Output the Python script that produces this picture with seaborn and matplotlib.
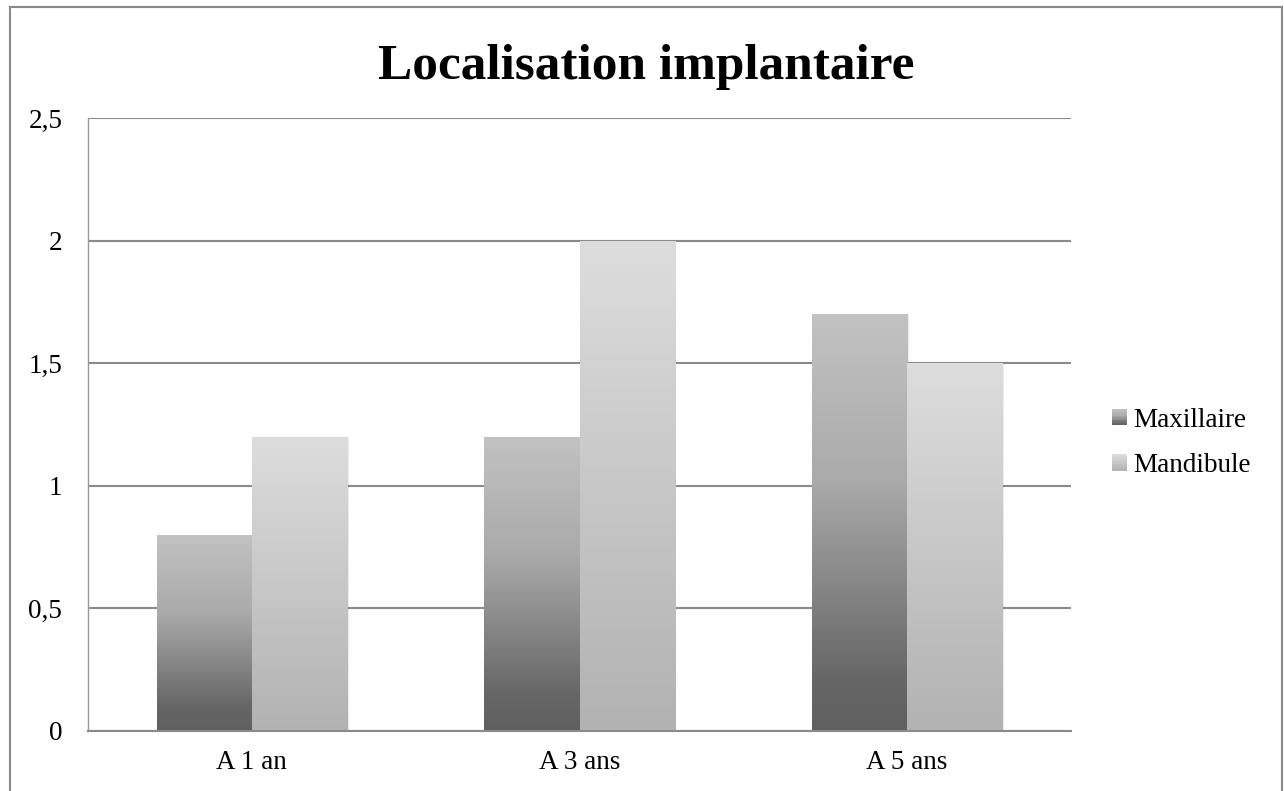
import numpy as np
import pandas as pd
import matplotlib
matplotlib.use("Agg")
import matplotlib.pyplot as plt
import seaborn as sns
from matplotlib.colors import LinearSegmentedColormap
from matplotlib.patches import Patch, Rectangle
from matplotlib.legend_handler import HandlerBase

periodes = ["A 1 an", "A 3 ans", "A 5 ans"]
series = ["Maxillaire", "Mandibule"]
maxillaire = [0.8, 1.2, 1.7]
mandibule = [1.2, 2.0, 1.5]
yticks = [0, 0.5, 1, 1.5, 2, 2.5]
ytick_labels = ["0", "0,5", "1", "1,5", "2", "2,5"]

df = pd.DataFrame({
    "periode": periodes * 2,
    "localisation": [series[0]] * 3 + [series[1]] * 3,
    "valeur": maxillaire + mandibule,
})


class GradientHandler(HandlerBase):
    # legend square filled with the same vertical gradient as the bars
    def __init__(self, cmap, n=12):
        super().__init__()
        self.cmap = cmap
        self.n = n

    def create_artists(self, legend, orig_handle, xdescent, ydescent,
                       width, height, fontsize, trans):
        arts = []
        step = height / self.n
        for i in range(self.n):
            arts.append(Rectangle((-xdescent, -ydescent + i * step), width, step * 1.02,
                                  facecolor=self.cmap((i + 0.5) / self.n),
                                  edgecolor="none", transform=trans))
        return arts


sns.set_style("white")
plt.rcParams["font.family"] = ["Liberation Serif", "DejaVu Serif"]
plt.rcParams["text.color"] = "black"
plt.rcParams["xtick.color"] = "black"
plt.rcParams["ytick.color"] = "black"

fig = plt.figure(figsize=(12.84, 7.91), dpi=100)
ax = fig.add_axes([88 / 1284, 1 - 731 / 791, (1071 - 88) / 1284, (731 - 118) / 791])

sns.barplot(data=df, x="periode", y="valeur", hue="localisation",
            palette=["#7a7a7a", "#c8c8c8"], width=0.58, legend=False, ax=ax,
            zorder=2)

cmap_max = LinearSegmentedColormap.from_list(
    "maxi", [(0, "#606060"), (0.12, "#666666"), (0.6, "#aaaaaa"), (1, "#c2c2c2")])
cmap_man = LinearSegmentedColormap.from_list(
    "mandi", [(0, "#b2b2b2"), (1, "#dddddd")])
grad = np.linspace(0, 1, 256).reshape(-1, 1)

for container, cmap in zip(ax.containers, [cmap_max, cmap_man]):
    for bar in container:
        x, w, h = bar.get_x(), bar.get_width(), bar.get_height()
        bar.set_facecolor("none")
        bar.set_edgecolor("none")
        # soft shadow
        ax.add_patch(Rectangle((x + 0.006, 0), w, h - 0.008, color="#000000",
                               alpha=0.08, zorder=1.5, lw=0))
        im = ax.imshow(grad, extent=[x, x + w, 0, h], origin="lower",
                       aspect="auto", cmap=cmap, zorder=2)
        im.set_clip_path(bar)

ax.set_xlim(-0.5, 2.5)
ax.set_ylim(0, 2.5)
ax.set_yticks(yticks)
ax.set_yticklabels(ytick_labels)
ax.yaxis.grid(True, color="#8a8a8a", linewidth=1.5)
ax.set_axisbelow(True)
ax.set_xlabel("")
ax.set_ylabel("")
ax.tick_params(axis="y", length=0, pad=18.5, labelsize=19.5)
ax.tick_params(axis="x", length=0, pad=14, labelsize=19.5)

for side in ["top", "right"]:
    ax.spines[side].set_visible(False)
ax.spines["left"].set_color("#9a9a9a")
ax.spines["left"].set_linewidth(1.0)
ax.spines["bottom"].set_color("#8a8a8a")
ax.spines["bottom"].set_linewidth(1.5)

handles = [Patch(facecolor="#7c7c7c"), Patch(facecolor="#c6c6c6")]
fig.legend(handles, series, loc="center left", bbox_to_anchor=(1112 / 1284, 1 - 443 / 791),
           frameon=False, fontsize=19.5, handlelength=0.55, handleheight=0.55,
           handletextpad=0.25, labelspacing=0.75, borderpad=0, borderaxespad=0,
           handler_map={handles[0]: GradientHandler(cmap_max),
                        handles[1]: GradientHandler(cmap_man)})

fig.text(0.503, 1 - 79 / 791, "Localisation implantaire", ha="center", va="baseline",
         fontsize=37, fontweight="bold")

fig.patches.append(Rectangle((10 / 1284, -0.02), 1272 / 1284, 1.0115, transform=fig.transFigure,
                             fill=False, edgecolor="#8a8a8a", linewidth=1.5))

fig.savefig("out.png", dpi=100)
